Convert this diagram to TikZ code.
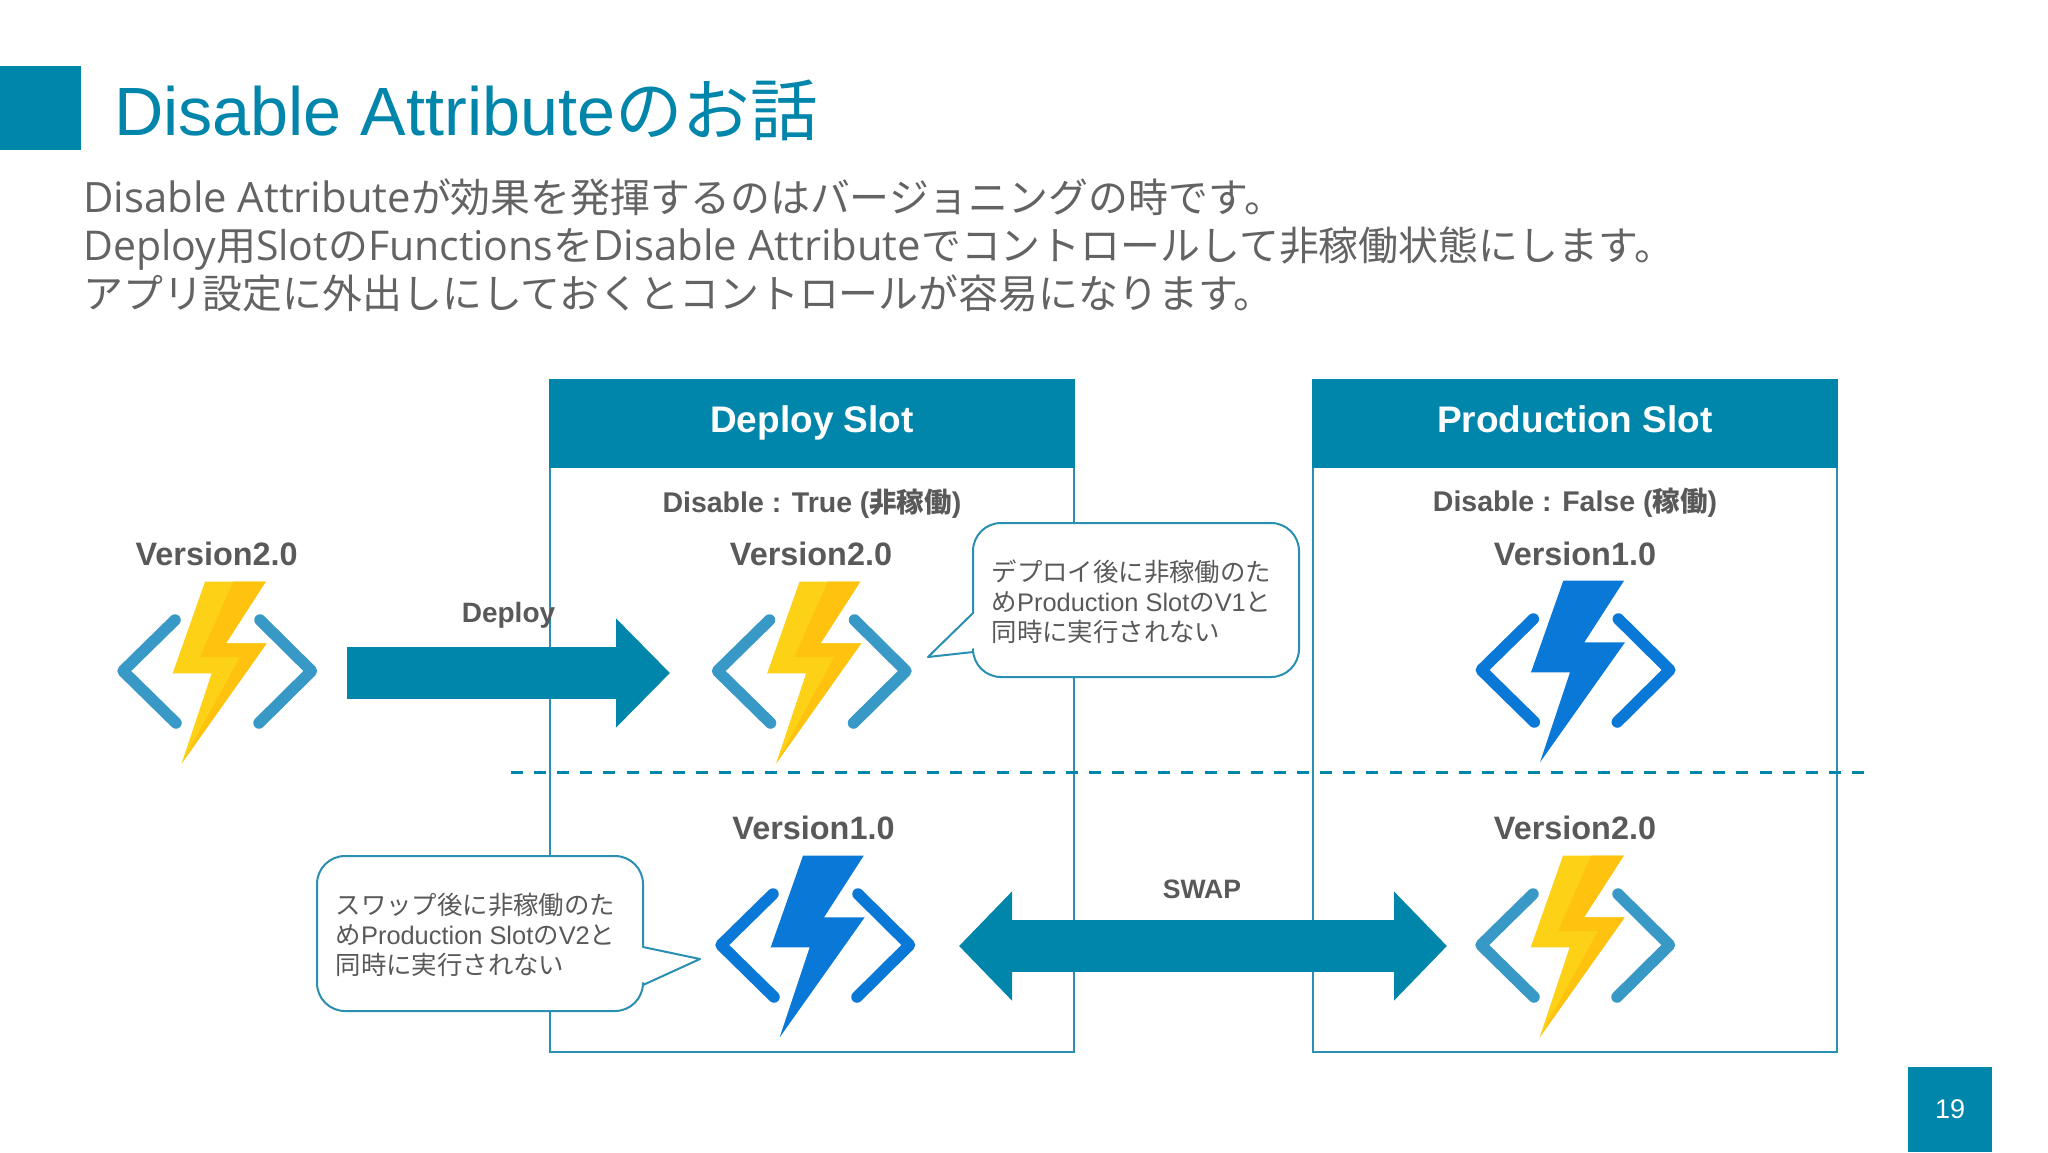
\documentclass[tikz,border=0pt]{standalone}
\usepackage{fontspec}
\usetikzlibrary{arrows.meta}
\setmainfont{Liberation Sans}
\newfontfamily\jpfont{Noto Sans CJK JP}
\newfontfamily\bodylatin{Open Sans}
\newcommand{\J}[1]{{\jpfont #1}}
\newcommand{\La}[1]{{\bodylatin\fsz{41.8}{40}#1}}
\newcommand{\Lb}[1]{{\bodylatin\fsz{41}{40}#1}}
\newcommand{\fsz}[2]{\fontsize{#1}{#2}\selectfont}
\definecolor{teal}{HTML}{0085AB}
\definecolor{edge}{HTML}{2A8FB0}
\definecolor{ink}{HTML}{595959}
\definecolor{inklight}{HTML}{636363}
\definecolor{boltA}{HTML}{FCD116}
\definecolor{boltB}{HTML}{FFC20F}
\definecolor{bracketY}{HTML}{3999C6}
\definecolor{azure}{HTML}{0A78D7}
\tikzset{
  x=1pt,y=-1pt,
  slotbox/.style={draw=edge,line width=2pt,fill=white},
  slothead/.style={fill=teal,draw=teal,line width=2pt},
  headtext/.style={text=white,font=\bfseries\fsz{37}{37},inner sep=0,anchor=base},
  label/.style={text=ink,font=\bfseries\fsz{28.5}{29},inner sep=0,anchor=base},
  vertext/.style={text=ink,font=\bfseries\fsz{32.4}{32},inner sep=0,anchor=base},
  bodytext/.style={anchor=base west,inner sep=0,text=inklight,font=\jpfont\fsz{39.9}{40}},
  bubble/.style={draw=edge,line width=2pt,fill=white,line join=round},
  bubbletext/.style={text=ink,inner sep=0,anchor=west,align=left,font=\fsz{25.4}{30}},
  flow/.style={draw=teal,line width=52pt},
  bracket/.style={line width=11.5pt,line cap=round,line join=round},
  fnyellow/.pic={
    \fill[boltA] (105,61.7)--(165.7,61.7)--(126,123.3)--(166.7,123.3)--(81.7,243.3)--(111.7,153.3)--(72.7,153.3)--cycle;
    \fill[boltB] (133.3,61.7)--(165.7,61.7)--(126,123.3)--(166.7,123.3)--(81.7,243.3)--(140,137)--(100,137)--cycle;
    \draw[bracket,bracketY] (75,100)--(23,151)--(76,203);
    \draw[bracket,bracketY] (160,100)--(211.5,151)--(159,203);
  },
  fnblue/.pic={
    \fill[azure] (105,61.7)--(165.7,61.7)--(126,123.3)--(166.7,123.3)--(81.7,243.3)--(111.7,153.3)--(72.7,153.3)--cycle;
    \draw[bracket,azure] (75,100)--(23,151)--(76,203);
    \draw[bracket,azure] (160,100)--(211.5,151)--(159,203);
  },
}
\begin{document}
\begin{tikzpicture}
\useasboundingbox (0,0) rectangle (2048,1152);
\fill[white] (0,0) rectangle (2048,1152);
% header
\fill[teal] (0,66) rectangle (81,150);
\node[anchor=base west,inner sep=0,text=teal,font=\fsz{68.3}{68}] (title) at (114,135) {Disable Attribute\J{\fsz{67.5}{68}のお話}};
\node[bodytext] (l1) at (83,212.5) {\La{Disable Attribute}が効果を発揮するのはバージョニングの時です。};
\node[bodytext] (l2) at (83,260.5) {\Lb{Deploy}用\Lb{Slot}の\Lb{Functions}を\La{Disable Attribute}でコントロールして非稼働状態にします。};
\node[bodytext] (l3) at (83,308) {アプリ設定に外出しにしておくとコントロールが容易になります。};
% slots
\draw[slotbox] (550,380) rectangle (1074,1052);
\draw[slothead] (550,380) rectangle (1074,467);
\draw[slotbox] (1313,380) rectangle (1837,1052);
\draw[slothead] (1313,380) rectangle (1837,467);
\node[headtext] (dh) at (812,432) {Deploy Slot};
\node[headtext] (ph) at (1575,432) {Production Slot};
\node[label] (ds) at (812,512) {Disable : True (\J{\bfseries\fsz{27.5}{29}非稼働})};
\node[label] (ps) at (1575,511) {Disable : False (\J{\bfseries\fsz{27.5}{29}稼働})};
% icons
\pic at (100,520) {fnyellow};
\pic at (694.5,520) {fnyellow};
\pic at (1458.3,519) {fnblue};
\pic at (698,794) {fnblue};
\pic at (1458,794) {fnyellow};
\node[vertext] (v1) at (216.7,565.5) {Version2.0};
\node[vertext] (v2) at (811,565.5) {Version2.0};
\node[vertext] (v3) at (1575,565.5) {Version1.0};
\node[vertext] (v4) at (813.5,839.5) {Version1.0};
\node[vertext] (v5) at (1575,839.5) {Version2.0};
% dashed
\coordinate (dashA) at (511,772);
\coordinate (dashB) at (1864,772);
\draw[teal,line width=3pt,dash pattern=on 12pt off 11.12pt] (dashA) -- (dashB);
% arrows
\coordinate (depA) at (347,673);
\coordinate (depB) at (670,673);
\coordinate (swapA) at (959,946);
\coordinate (swapB) at (1447,946);
\node[label,font=\bfseries\fsz{28}{28}] (deploy) at (508.5,622) {Deploy};
\node[label,font=\bfseries\fsz{26.6}{26.6}] (swap) at (1202,898) {SWAP};
\draw[flow,-{Triangle[length=54pt,width=106pt]}] (depA) -- (depB);
\draw[flow,{Triangle[length=53pt,width=106pt]}-{Triangle[length=53pt,width=106pt]}] (swapA) -- (swapB);
% callouts
\draw[bubble] (1001,523) -- (1271,523) arc[start angle=-90,end angle=0,radius=28] -- (1299,649) arc[start angle=0,end angle=90,radius=28] -- (1001,677)
  arc[start angle=90,end angle=180,radius=28] -- (973,652) -- (928,657) -- (973,613) -- (973,551) arc[start angle=180,end angle=270,radius=28] -- cycle;
\node[bubbletext] (c1) at (991.5,601.5) {\J{デプロイ後に非稼働のた}\\\J{め}Production Slot\J{の}V1\J{と}\\\J{同時に実行されない}};
\draw[bubble] (345,856) -- (615,856) arc[start angle=-90,end angle=0,radius=28] -- (643,947) -- (700,959) -- (643,985) -- (643,983) arc[start angle=0,end angle=90,radius=28] -- (345,1011)
  arc[start angle=90,end angle=180,radius=28] -- (317,884) arc[start angle=180,end angle=270,radius=28] -- cycle;
\node[bubbletext] (c2) at (335.5,935) {\J{スワップ後に非稼働のた}\\\J{め}Production Slot\J{の}V2\J{と}\\\J{同時に実行されない}};
% page number
\fill[teal] (1908,1067) rectangle (1992,1152);
\node[text=white,inner sep=0,font=\fsz{27}{27}] (page) at (1950,1109) {19};
\end{tikzpicture}
\end{document}
